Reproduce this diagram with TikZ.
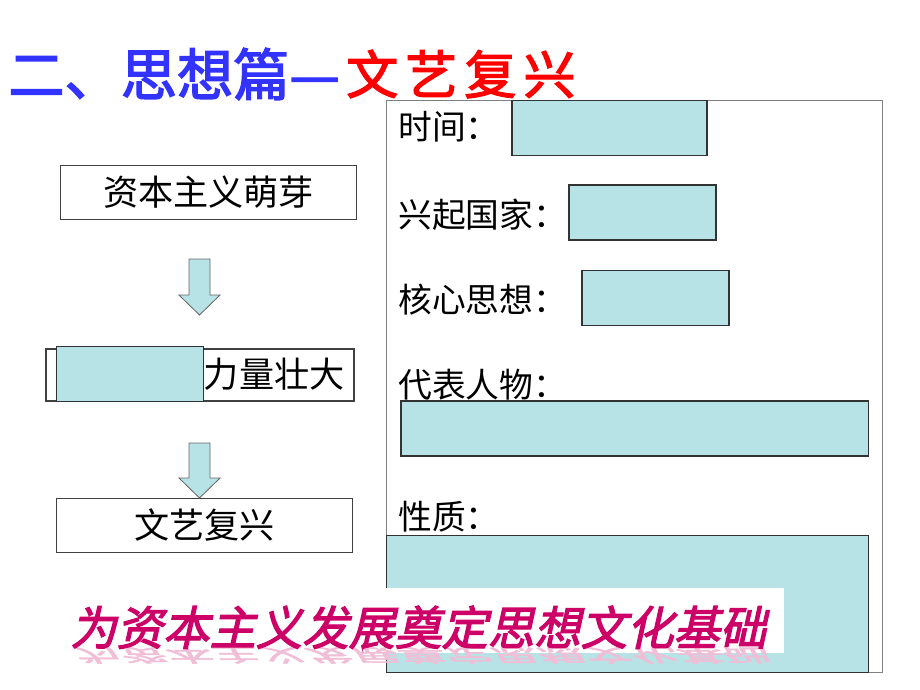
\documentclass[tikz,border=0pt]{standalone}
\usepackage{fontspec}
\usepackage{tikz}
\usetikzlibrary{positioning}
\newfontfamily\cjk{Noto Sans CJK SC}
\newfontfamily\cjkheavy[FakeBold=2.5]{Noto Sans CJK SC}
\newfontfamily\cjkslant[FakeBold=2.5,FakeSlant=0.22]{Noto Sans CJK SC}
\definecolor{titleblue}{RGB}{51,51,255}
\definecolor{titlered}{RGB}{255,0,0}
\definecolor{maskfill}{RGB}{184,227,230}
\definecolor{sloganred}{RGB}{204,0,102}
\definecolor{echopink}{RGB}{240,190,215}
\tikzset{
  stepbox/.style={draw=black!75, line width=0.8pt, minimum width=7.38cm, minimum height=1.33cm, inner sep=0pt, font=\cjk\fontsize{25}{25}\selectfont},
  mask/.style={draw=black!80, line width=0.8pt, fill=maskfill},
  fatarrow/.style={draw=black!60, fill=maskfill, line width=0.6pt},
  item/.style={anchor=west, inner sep=0pt, font=\cjk\fontsize{24}{24}\selectfont},
}
\begin{document}
\begin{tikzpicture}[x=0.025cm,y=-0.025cm]
  \useasboundingbox (0,0) rectangle (920,690);
  % title
  \node[anchor=west, inner sep=0pt, text=titleblue, font=\cjkheavy\fontsize{40}{40}\selectfont] (head) at (8,74) {二、思想篇—};
  \node[anchor=west, inner sep=0pt, text=titlered, font=\cjkheavy\fontsize{37}{37}\selectfont] (topic) at (346,74) {文\hspace{5pt}艺\hspace{5pt}复\hspace{5pt}兴};

  % left chain
  \node[stepbox] (sprout) at (208.5,192.5) {资本主义萌芽};
  \node[stepbox, minimum width=7.7cm, minimum height=1.3cm] (force) at (200,375) {};
  \node[mask, minimum width=3.66cm, minimum height=1.375cm, inner sep=0pt] (hidden) at (129.85,374.2) {};
  \node[anchor=west, inner sep=0pt, font=\cjk\fontsize{25}{25}\selectfont] (forcetext) at (hidden.east) {力量壮大};
  \node[stepbox] (renaiss) at (204.5,525.5) {文艺复兴};
  \coordinate (arrA) at (199.5,259);
  \coordinate (arrB) at (199.5,443);
  \draw[fatarrow] (arrA) ++(-10.5,0) -- ++(21,0) -- ++(0,36) -- ++(10,0) -- ++(-20.5,20) -- ++(-20.5,-20) -- ++(10,0) -- cycle;
  \draw[fatarrow] (arrB) ++(-10.5,0) -- ++(21,0) -- ++(0,35) -- ++(10,0) -- ++(-20.5,20) -- ++(-20.5,-20) -- ++(10,0) -- cycle;

  % right panel
  \draw[draw=black!50, line width=0.8pt] (386.7,100.7) rectangle (882.7,672.7);
  \node[item] (time) at (398,127) {时间：};
  \draw[mask] (512,100.7) rectangle (707,155.7);
  \node[item] (country) at (398,215) {兴起国家：};
  \draw[mask] (569,185) rectangle (716,240);
  \node[item] (core) at (398,300) {核心思想：};
  \draw[mask] (582,270.7) rectangle (729,325.7);
  \node[item] (people) at (398,385) {代表人物：};
  \draw[mask] (401,401) rectangle (868.7,456);
  \node[item] (nature) at (398,517) {性质：};
  \draw[mask] (386.7,535.7) rectangle (868.7,672.7);

  % slogan
  \fill[white] (60,588) rectangle (784,653);
  \node[anchor=base west, inner sep=0pt, text=echopink, yscale=-0.4, font=\cjkslant\fontsize{33}{33}\selectfont] (echo) at (70,648) {为资本主义发展奠定思想文化基础};
  \node[anchor=base west, inner sep=0pt, text=sloganred, font=\cjkslant\fontsize{33}{33}\selectfont] (slogan) at (70,645) {为资本主义发展奠定思想文化基础};
\end{tikzpicture}
\end{document}
